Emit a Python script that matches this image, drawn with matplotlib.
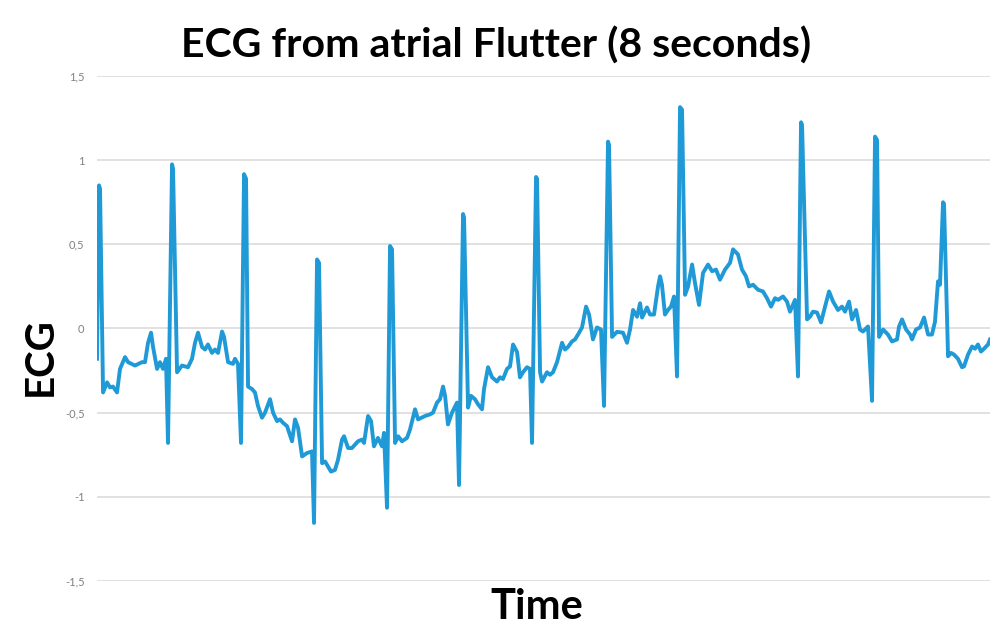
import numpy as np
import matplotlib
matplotlib.use("Agg")
import matplotlib.pyplot as plt

# ECG trace (time in s, amplitude)
time_s = [
    0.000, 0.018, 0.027, 0.054, 0.090, 0.116, 0.143, 0.179, 0.206, 0.251,
    0.278, 0.340, 0.403, 0.430, 0.457, 0.484, 0.502, 0.538, 0.564, 0.591,
    0.618, 0.636, 0.672, 0.681, 0.717, 0.761, 0.815, 0.851, 0.878, 0.905,
    0.941, 0.968, 0.994, 1.030, 1.057, 1.084, 1.120, 1.138, 1.174, 1.218,
    1.236, 1.263, 1.290, 1.317, 1.335, 1.353, 1.389, 1.415, 1.442, 1.478,
    1.505, 1.550, 1.577, 1.613, 1.639, 1.666, 1.702, 1.747, 1.774, 1.801,
    1.837, 1.881, 1.926, 1.944, 1.971, 1.989, 2.016, 2.043, 2.069, 2.096,
    2.132, 2.159, 2.195, 2.213, 2.249, 2.284, 2.311, 2.338, 2.374, 2.392,
    2.428, 2.455, 2.481, 2.517, 2.553, 2.571, 2.598, 2.625, 2.643, 2.670,
    2.697, 2.732, 2.777, 2.804, 2.849, 2.876, 2.938, 2.983, 3.010, 3.046,
    3.073, 3.100, 3.118, 3.144, 3.180, 3.225, 3.243, 3.279, 3.288, 3.324,
    3.350, 3.386, 3.413, 3.449, 3.467, 3.503, 3.539, 3.583, 3.610, 3.637,
    3.673, 3.700, 3.727, 3.763, 3.789, 3.816, 3.852, 3.879, 3.897, 3.933,
    3.942, 3.969, 3.987, 4.031, 4.058, 4.085, 4.121, 4.139, 4.166, 4.192,
    4.219, 4.255, 4.282, 4.309, 4.345, 4.381, 4.408, 4.443, 4.479, 4.515,
    4.542, 4.578, 4.587, 4.614, 4.658, 4.712, 4.748, 4.775, 4.802, 4.838,
    4.865, 4.883, 4.927, 4.954, 4.990, 5.026, 5.044, 5.061, 5.088, 5.115,
    5.142, 5.169, 5.196, 5.223, 5.241, 5.268, 5.295, 5.331, 5.357, 5.393,
    5.429, 5.474, 5.510, 5.545, 5.581, 5.626, 5.671, 5.698, 5.742, 5.778,
    5.814, 5.841, 5.877, 5.922, 5.966, 6.002, 6.038, 6.074, 6.101, 6.146,
    6.181, 6.208, 6.253, 6.280, 6.307, 6.316, 6.361, 6.387, 6.414, 6.450,
    6.486, 6.522, 6.558, 6.594, 6.638, 6.674, 6.701, 6.737, 6.764, 6.800,
    6.835, 6.862, 6.907, 6.943, 6.970, 6.988, 7.006, 7.042, 7.086, 7.122,
    7.167, 7.185, 7.212, 7.248, 7.284, 7.301, 7.337, 7.373, 7.409, 7.445,
    7.480, 7.507, 7.534, 7.552, 7.579, 7.588, 7.624, 7.651, 7.677, 7.713,
    7.749, 7.767, 7.803, 7.839, 7.866, 7.892, 7.919, 7.946, 7.982, 8.000,
]
ecg = [
    -0.18, 0.85, 0.83, -0.38, -0.32, -0.35, -0.345, -0.38, -0.24, -0.17,
    -0.20, -0.22, -0.20, -0.20, -0.085, -0.025, -0.11, -0.24, -0.20, -0.24,
    -0.18, -0.68, 0.975, 0.95, -0.26, -0.22, -0.23, -0.18, -0.085, -0.025,
    -0.11, -0.125, -0.095, -0.145, -0.125, -0.145, -0.018, -0.05, -0.20, -0.21,
    -0.18, -0.21, -0.68, 0.917, 0.89, -0.345, -0.36, -0.38, -0.46, -0.53,
    -0.50, -0.42, -0.50, -0.55, -0.54, -0.56, -0.58, -0.67, -0.54, -0.59,
    -0.76, -0.74, -0.73, -1.155, 0.41, 0.39, -0.80, -0.79, -0.82, -0.85,
    -0.84, -0.78, -0.66, -0.64, -0.71, -0.71, -0.69, -0.67, -0.66, -0.68,
    -0.52, -0.55, -0.70, -0.65, -0.70, -0.62, -1.065, 0.49, 0.47, -0.68,
    -0.64, -0.67, -0.65, -0.60, -0.48, -0.54, -0.52, -0.51, -0.50, -0.44,
    -0.42, -0.345, -0.40, -0.57, -0.50, -0.44, -0.93, 0.68, 0.66, -0.47,
    -0.40, -0.42, -0.45, -0.48, -0.36, -0.23, -0.29, -0.315, -0.29, -0.30,
    -0.24, -0.225, -0.095, -0.14, -0.29, -0.26, -0.23, -0.24, -0.68, 0.90,
    0.89, -0.26, -0.315, -0.26, -0.275, -0.26, -0.20, -0.155, -0.085, -0.125,
    -0.11, -0.077, -0.065, -0.036, 0.006, 0.13, 0.083, -0.065, 0.006, -0.006,
    -0.46, 1.11, 1.09, -0.05, -0.02, -0.025, -0.085, -0.006, 0.11, 0.07,
    0.15, 0.065, 0.125, 0.083, 0.083, 0.25, 0.31, 0.26, 0.083, 0.11,
    0.13, 0.19, -0.285, 1.315, 1.30, 0.20, 0.25, 0.38, 0.27, 0.14,
    0.33, 0.38, 0.34, 0.35, 0.29, 0.35, 0.39, 0.47, 0.44, 0.35,
    0.31, 0.25, 0.26, 0.23, 0.22, 0.18, 0.13, 0.18, 0.17, 0.19,
    0.16, 0.10, 0.17, -0.285, 1.225, 1.21, 0.054, 0.07, 0.10, 0.095,
    0.036, 0.13, 0.22, 0.16, 0.11, 0.13, 0.10, 0.16, 0.054, 0.11,
    -0.006, -0.018, 0.012, -0.43, 1.14, 1.12, -0.05, -0.006, -0.036, -0.077,
    -0.065, 0.012, 0.054, -0.006, -0.036, -0.065, -0.006, 0.006, 0.065, -0.036,
    -0.036, 0.04, 0.28, 0.26, 0.75, 0.74, -0.165, -0.145, -0.155, -0.18,
    -0.23, -0.225, -0.155, -0.107, -0.12, -0.095, -0.137, -0.12, -0.095, -0.065,
]
y_ticks = [-1.5, -1, -0.5, 0, 0.5, 1, 1.5]
y_tick_labels = ["-1,5", "-1", "-0,5", "0", "0,5", "1", "1,5"]

plt.rcParams["font.family"] = ["Lato", "DejaVu Sans"]

fig = plt.figure(figsize=(9.92, 6.29), dpi=100)
ax = fig.add_axes([0.0978, 0.0763, 0.9002, 0.8029])

ax.plot(time_s, ecg, color="#1f9ad6", linewidth=2.8, solid_joinstyle="round")

ax.set_xlim(0, 8)
ax.set_ylim(-1.5, 1.5)
ax.set_yticks(y_ticks)
ax.set_yticklabels(y_tick_labels, color="#808080", fontsize=8)
ax.set_xticks([])
ax.tick_params(axis="y", length=0, pad=9)
ax.grid(axis="y", color="#d9d9d9", linewidth=1.1)
ax.set_axisbelow(True)
for s in ax.spines.values():
    s.set_visible(False)

fig.text(0.5, 0.928, "ECG from atrial Flutter (8 seconds)", ha="center", va="center",
         fontsize=29.5, fontweight="bold")
fig.text(0.541, 0.035, "Time", ha="center", va="center", fontsize=30, fontweight="bold")
fig.text(0.041, 0.433, "ECG", ha="center", va="center", rotation=90,
         fontsize=29, fontweight="bold")

fig.savefig("out.png", dpi=100)
